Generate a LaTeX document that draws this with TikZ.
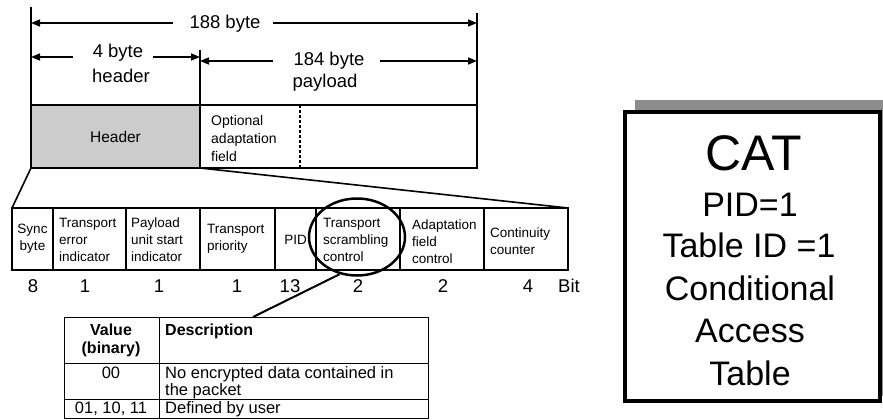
\documentclass[tikz,border=0pt]{standalone}
\usepackage{fontspec}
\setmainfont{Liberation Sans}
\usetikzlibrary{arrows.meta,shapes.geometric}
\begin{document}
\begin{tikzpicture}[x=1pt,y=-1pt,
  dimarrow/.style={line width=1.5pt,-{Triangle[length=9pt,width=7pt]}},
  frame/.style={line width=1.5pt},
  cellbox/.style={draw,line width=1.5pt,inner sep=0pt,outer sep=0pt,rectangle},
  toptxt/.style={font=\fontsize{18.5}{22}\selectfont,anchor=base,inner sep=0pt},
  smalltxt/.style={font=\fontsize{14}{18}\selectfont,anchor=base west,inner sep=0pt},
  fieldtxt/.style={font=\fontsize{13.5}{17}\selectfont,align=left,anchor=west,inner sep=0pt},
  bittxt/.style={font=\fontsize{18.5}{22}\selectfont,anchor=base,inner sep=0pt},
  tabtxt/.style={font=\fontsize{16.5}{18}\selectfont,anchor=base,inner sep=0pt},
  tabhead/.style={font=\bfseries\fontsize{16}{18}\selectfont,anchor=base,inner sep=0pt},
  cattxt/.style={font=\fontsize{34}{40}\selectfont,anchor=base,inner sep=0pt}]
\useasboundingbox (0,0) rectangle (883,420);

% ---------- packet row ----------
\node[cellbox,fill=black!20,minimum width=169pt,minimum height=63pt] (hdr) at (115.5,136.5) {};
\node[font=\fontsize{15.5}{18}\selectfont] (hdrtxt) at (hdr.center) {Header};
\node[cellbox,minimum width=277pt,minimum height=63pt] (pay) at (338.5,136.5) {};
\node[smalltxt] (opt1) at (211,125) {Optional};
\node[smalltxt] (opt2) at (211,143) {adaptation};
\node[smalltxt] (opt3) at (211,161) {field};
\coordinate (dsh0) at (300,105);
\coordinate (dsh1) at (300,168);
\draw[line width=1.2pt,dash pattern=on 3pt off 2pt] (dsh0) -- (dsh1);

% vertical extension lines
\coordinate (L0) at (31,7);
\coordinate (R0) at (477,13);
\coordinate (M0) at (200,50);
\draw[frame] (L0) -- (hdr.north west);
\draw[frame] (R0) -- (pay.north east);
\draw[frame] (M0) -- (hdr.north east);

% 188 byte
\coordinate (t188l) at (31,23);
\coordinate (t188r) at (477,23);
\node[toptxt,inner xsep=0pt] (l188) at (225,29) {188 byte};
\coordinate (s188l) at (173,23);
\coordinate (s188r) at (273,23);
\draw[dimarrow] (s188l) -- (t188l);
\draw[dimarrow] (s188r) -- (t188r);

% 4 byte header
\node[toptxt] (l4a) at (118,58) {4 byte};
\node[toptxt] (l4b) at (121,82) {header};
\coordinate (t4l) at (31,57);
\coordinate (t4r) at (200,57);
\coordinate (s4l) at (73,57);
\coordinate (s4r) at (153,57);
\draw[dimarrow] (s4l) -- (t4l);
\draw[dimarrow] (s4r) -- (t4r);

% 184 byte payload
\node[toptxt] (l184a) at (329,66) {184 byte};
\node[toptxt] (l184b) at (325,88) {payload};
\coordinate (t184l) at (200,61);
\coordinate (t184r) at (477,61);
\coordinate (s184l) at (273,61);
\coordinate (s184r) at (380,61);
\draw[dimarrow] (s184l) -- (t184l);
\draw[dimarrow] (s184r) -- (t184r);

% ---------- header fields ----------
\node[cellbox,minimum width=41pt,minimum height=62pt] (f1) at (32.5,239) {};
\node[cellbox,minimum width=73pt,minimum height=62pt] (f2) at (89.5,239) {};
\node[cellbox,minimum width=74pt,minimum height=62pt] (f3) at (163,239) {};
\node[cellbox,minimum width=75pt,minimum height=62pt] (f4) at (237.5,239) {};
\node[cellbox,minimum width=41pt,minimum height=62pt] (f5) at (295.5,239) {};
\node[cellbox,minimum width=84pt,minimum height=62pt] (f6) at (358,239) {};
\node[cellbox,minimum width=84pt,minimum height=62pt] (f7) at (442,239) {};
\node[cellbox,minimum width=84pt,minimum height=62pt] (f8) at (526,239) {};

\node[fieldtxt,anchor=center,align=center] (x1) at (f1.center) {Sync\\byte};
\node[fieldtxt] (x2) at (59,240) {Transport\\error\\indicator};
\node[fieldtxt] (x3) at (131,240) {Payload\\unit start\\indicator};
\node[fieldtxt] (x4) at (207,239) {Transport\\priority};
\node[fieldtxt,anchor=center] (x5) at (295.5,240) {PID};
\node[fieldtxt] (x6) at (323,240) {Transport\\scrambling\\control};
\node[fieldtxt] (x7) at (412,242) {Adaptation\\field\\control};
\node[fieldtxt] (x8) at (490,241) {Continuity\\counter};

\draw[line width=1.6pt] (hdr.south west) -- (f1.north west);
\draw[line width=1.6pt] (hdr.south east) -- (f8.north east);

% bit counts
\node[bittxt] (b1) at (33,292) {8};
\node[bittxt] (b2) at (85,292) {1};
\node[bittxt] (b3) at (159,292) {1};
\node[bittxt] (b4) at (237,292) {1};
\node[bittxt] (b5) at (290,292) {13};
\node[bittxt] (b6) at (358,292) {2};
\node[bittxt] (b7) at (443,292) {2};
\node[bittxt] (b8) at (528,292) {4};
\node[bittxt] (bit) at (569,292) {Bit};

% highlight ellipse
\node[draw,ellipse,line width=2.5pt,minimum width=96pt,minimum height=77pt,inner sep=0pt] (circ) at (357,237) {};

% ---------- value table ----------
\node[draw,line width=1pt,rectangle,minimum width=364pt,minimum height=101pt,inner sep=0pt] (tbl) at (246,367.5) {};
\coordinate (tv0) at (159,317);
\coordinate (tv1) at (159,418);
\coordinate (th1a) at (64,363);
\coordinate (th1b) at (428,363);
\coordinate (th2a) at (64,399);
\coordinate (th2b) at (428,399);
\draw[line width=1pt] (tv0) -- (tv1);
\draw[line width=1pt] (th1a) -- (th1b);
\draw[line width=1pt] (th2a) -- (th2b);
\node[tabhead] (v1) at (111,335) {Value};
\node[tabhead] (v2) at (111,353) {(binary)};
\node[tabhead,anchor=base west] (d0) at (165,335) {Description};
\node[tabtxt] (r1a) at (111,378) {00};
\node[tabtxt,anchor=base west] (r1b) at (165,378) {No encrypted data contained in};
\node[tabtxt,anchor=base west] (r1c) at (165,395) {the packet};
\node[tabtxt] (r2a) at (111,413) {01, 10, 11};
\node[tabtxt,anchor=base west] (r2b) at (165,413) {Defined by user};

\coordinate (tcon) at (253,317);
\draw[line width=2pt] (circ.245) -- (tcon);

% ---------- CAT box ----------
\fill[black!45] (635,100) rectangle (883,396);
\node[draw,line width=4pt,fill=white,minimum width=255pt,minimum height=289pt,inner sep=0pt] (cat) at (752.5,256.5) {};
\node[font=\fontsize{50}{56}\selectfont,anchor=base,inner sep=0pt] (c1) at (754,170) {CAT};
\node[cattxt] (c2) at (750,216) {PID=1};
\node[cattxt] (c3) at (749,257) {Table ID =1};
\node[cattxt] (c4) at (750,300) {Conditional};
\node[cattxt] (c5) at (750,342) {Access};
\node[cattxt] (c6) at (750,385) {Table};
\end{tikzpicture}
\end{document}
